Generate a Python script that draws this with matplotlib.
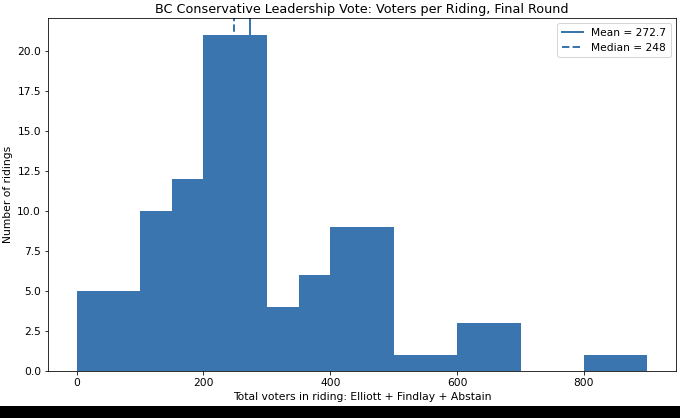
import numpy as np
from matplotlib import pyplot as plt
from matplotlib.patches import Rectangle

# histogram of voters per riding (bin width 50)
bin_edges = [0, 50, 100, 150, 200, 250, 300, 350, 400, 450,
             500, 550, 600, 650, 700, 750, 800, 850, 900]
counts = [5, 5, 10, 12, 21, 21, 4, 6, 9, 9, 1, 1, 3, 3, 0, 0, 1, 1]
mean_votes = 272.7
median_votes = 248

color = '#3b75af'

fig = plt.figure(figsize=(680 / 72, 418 / 72), dpi=72)
ax = fig.add_axes([0.0706, 0.1124, 0.9234, 0.8446])

ax.stairs(counts, bin_edges, fill=True, color=color, zorder=1)
ax.axvline(mean_votes, color=color, linestyle='-', linewidth=2, zorder=0,
           label=f'Mean = {mean_votes}')
ax.axvline(median_votes, color=color, linestyle='--', linewidth=2, zorder=0,
           label=f'Median = {median_votes}')

ax.set_xlim(-45, 945)
ax.set_ylim(0, 22.05)
ax.set_yticks(np.arange(0, 21, 2.5))
ax.set_title('BC Conservative Leadership Vote: Voters per Riding, Final Round',
             fontsize=12.8, pad=5)
ax.set_xlabel('Total voters in riding: Elliott + Findlay + Abstain', fontsize=10.8)
ax.set_ylabel('Number of ridings', fontsize=10.8)
ax.tick_params(axis='both', labelsize=10.6)
ax.legend(loc='upper right', fontsize=10.6)

# black strip along the bottom of the screenshot
fig.patches.append(Rectangle((0, 0), 1, 12 / 418, transform=fig.transFigure,
                             facecolor='black', edgecolor='none'))

fig.savefig('out.png', dpi=72)
